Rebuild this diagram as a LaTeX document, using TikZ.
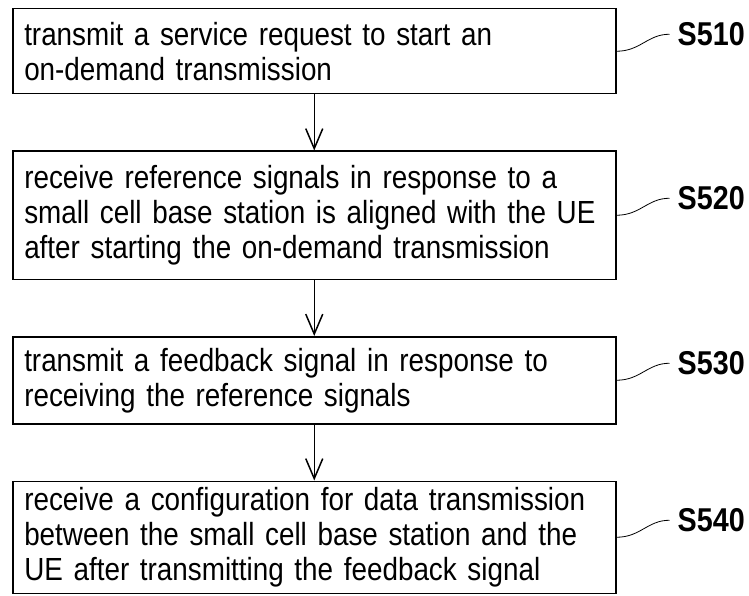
\documentclass[tikz,border=0pt]{standalone}
\usepackage{fontspec}
\setmainfont{Liberation Sans}[FakeStretch=0.87]
\usetikzlibrary{positioning,arrows.meta}
\tikzset{
  stepbox/.style={draw,line width=1.5pt,anchor=north west,text width=580pt,
    inner xsep=11.5pt,inner ysep=0pt,align=left,
    font=\fontsize{32}{35}\selectfont},
  steplabel/.style={anchor=west,inner sep=0pt,
    font=\fontsize{33}{36}\selectfont\bfseries},
  flow/.style={line width=1.5pt,-{Straight Barb[length=20pt,width=17pt,line width=1.5pt]}},
  tag/.style={line width=0.8pt}
}
\begin{document}
\begin{tikzpicture}[x=1pt,y=-1pt]
    \useasboundingbox (0,0) rectangle (749,596);
    \node [stepbox,minimum height=85pt] (b510) at (12,8)
      {transmit a service request to start an\\on-demand transmission};
    \node [stepbox,minimum height=128pt,below=56pt of b510.south west,anchor=north west] (b520)
      {receive reference signals in response to a\\small cell base station is aligned with the UE\\after starting the on-demand transmission};
    \node [stepbox,minimum height=87pt,below=56pt of b520.south west,anchor=north west] (b530)
      {transmit a feedback signal in response to\\receiving the reference signals};
    \node [stepbox,minimum height=112pt,below=56pt of b530.south west,anchor=north west] (b540)
      {receive a configuration for data transmission\\between the small cell base station and the\\UE after transmitting the feedback signal};
    \foreach \s in {510,520,530,540}
    \node [steplabel] (l\s) at ([shift={(61,-17)}]b\s.east) {S\s};
    \foreach \s in {510,520,530,540}
    \draw [tag] (b\s.east) .. controls +(24,0) and +(-22,0) .. ([xshift=-8pt]l\s.west);
    \draw [flow] (b510) -- (b520);
    \draw [flow] (b520) -- (b530);
    \draw [flow] (b530) -- (b540);
\end{tikzpicture}
\end{document}
